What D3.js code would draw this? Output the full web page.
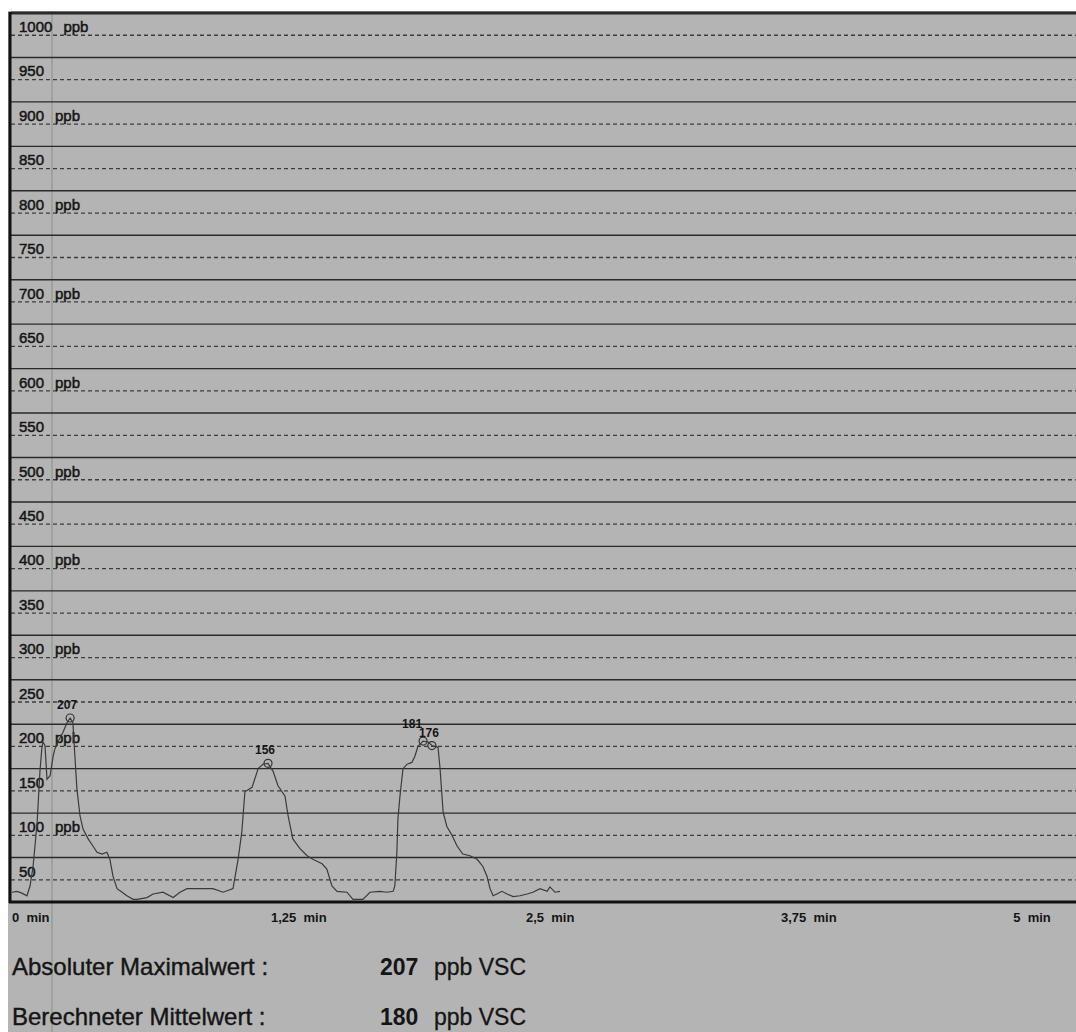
<!DOCTYPE html>
<html>
<head>
<meta charset="utf-8">
<script src="https://cdn.jsdelivr.net/npm/d3@7"></script>
<style>
body { margin: 0; background: #fff; }
text { font-family: "Liberation Sans", Arial, sans-serif; fill: #151515; }
</style>
</head>
<body>
<svg id="chart" width="1076" height="1032"></svg>
<script>
// measured trace: time in seconds, concentration in ppb
var times = [0.0, 1.5, 2.9, 4.4, 5.3, 6.2, 7.4, 8.2, 8.8, 9.1, 9.7, 10.3, 11.2, 12.1, 12.6, 13.5, 15.0, 16.2, 17.1, 17.9,
  18.5, 19.1, 20.0, 20.9, 22.4, 23.8, 25.0, 26.5, 27.9, 28.8, 29.7, 30.9, 32.4, 33.8, 35.6, 36.8, 39.7, 41.5, 44.4, 47.4,
  49.4, 51.5, 55.3, 59.1, 62.1, 65.0, 66.5, 67.6, 68.5, 70.6, 72.4, 73.8, 75.3, 76.8, 78.2, 80.3, 81.2, 82.6, 84.7, 86.8,
  88.5, 91.2, 92.6, 94.1, 95.6, 98.5, 100.3, 103.2, 105.3, 108.2, 110.3, 112.1, 112.6, 113.2, 113.5, 114.1, 115.0, 116.2, 117.6, 118.5,
  119.4, 120.9, 122.4, 123.5, 125.3, 125.9, 126.8, 127.9, 129.4, 130.9, 132.6, 134.7, 136.8, 138.5, 139.7, 140.6, 141.5, 142.6, 144.1, 145.6,
  147.4, 149.4, 151.5, 153.2, 155.3, 157.4, 158.2, 159.7, 161.2];
var values = [11, 12, 10, 7, 18, 40, 90, 146, 174, 180, 176, 138, 142, 164, 172, 180, 191, 202, 207, 202,
  164, 127, 97, 82, 71, 63, 56, 54, 56, 48, 29, 15, 11, 7, 3, 3, 5, 9, 11, 5,
  11, 15, 15, 15, 11, 15, 48, 79, 124, 129, 150, 155, 156, 147, 131, 119, 97, 71, 60, 52,
  48, 43, 37, 18, 12, 11, 3, 3, 11, 12, 11, 12, 18, 56, 93, 119, 150, 155, 157, 164,
  175, 181, 180, 176, 174, 150, 101, 85, 75, 63, 54, 52, 48, 40, 29, 15, 7, 9, 12, 9,
  6, 7, 9, 11, 15, 12, 17, 11, 12];

var peakTimes = [17.1, 75.3, 120.9, 123.5];
var peakValues = [207, 156, 181, 176];

var gridMajor = d3.range(50, 1001, 50);
var gridMinor = d3.range(25, 1000, 50);
var xTicks = [0, 75, 150, 225, 300];
var xTickLabels = ["0 min", "1,25 min", "2,5 min", "3,75 min", "5 min"];

var summaryLabels = ["Absoluter Maximalwert :", "Berechneter Mittelwert :"];
var summaryValues = [207, 180];
var summaryUnit = "ppb VSC";

var svg = d3.select("#chart");
var W = 1076, H = 1032;

var x = d3.scaleLinear().domain([0, 300]).range([12, 1032]);
var y = d3.scaleLinear().domain([0, 1000]).range([902, 13]);

// paper
svg.append("rect").attr("x", 8).attr("y", 11).attr("width", W - 8).attr("height", H - 11).attr("fill", "#b4b4b4");

// faint vertical scan line
svg.append("line")
  .attr("x1", 52).attr("x2", 52).attr("y1", 11).attr("y2", H)
  .attr("stroke", "#8e9a8e").attr("stroke-width", 1.5).attr("opacity", 0.8);

// dashed lines at 25, 75, ...
svg.append("g").selectAll("line")
  .data(gridMinor)
  .enter().append("line")
  .attr("x1", 11).attr("x2", W)
  .attr("y1", function(d) { return y(d); })
  .attr("y2", function(d) { return y(d); })
  .attr("stroke", "#3c3c3c")
  .attr("stroke-width", 1.3)
  .attr("stroke-dasharray", "4,3");

// solid lines at 50, 100, ...
svg.append("g").selectAll("line")
  .data(gridMajor)
  .enter().append("line")
  .attr("x1", 11).attr("x2", W)
  .attr("y1", function(d) { return y(d); })
  .attr("y2", function(d) { return y(d); })
  .attr("stroke", "#2a2a2a")
  .attr("stroke-width", function(d) { return d == 1000 ? 3 : 1.4; });

// frame: left border and base line
svg.append("line").attr("x1", 10).attr("x2", 10).attr("y1", 12).attr("y2", 903)
  .attr("stroke", "#111").attr("stroke-width", 3);
svg.append("line").attr("x1", 9).attr("x2", W).attr("y1", y(0)).attr("y2", y(0))
  .attr("stroke", "#111").attr("stroke-width", 3);

// y labels, below their line
var ylab = svg.append("g").selectAll("text")
  .data(gridMajor)
  .enter().append("text")
  .attr("x", 19)
  .attr("y", function(d) { return y(d) + 19; })
  .attr("font-size", 15)
  .attr("stroke", "#151515").attr("stroke-width", 0.5);
ylab.append("tspan").text(function(d) { return d; });
ylab.filter(function(d) { return d % 100 == 0; })
  .append("tspan")
  .attr("dx", 11)
  .text("ppb");

// x labels
svg.append("g").selectAll("text")
  .data(xTicks)
  .enter().append("text")
  .attr("x", function(d, i) { return x(d) + (i > 0 && i < xTicks.length - 1 ? 4 : 0); })
  .attr("y", 922)
  .attr("font-size", 13)
  .attr("font-weight", "bold")
  .attr("text-anchor", function(d, i) { return i == xTicks.length - 1 ? "middle" : "start"; })
  .attr("xml:space", "preserve")
  .text(function(d, i) { return xTickLabels[i].replace(" ", "  "); });

// trace
var trace = times.map(function(t, i) { return {t: t, v: values[i]}; });
var line = d3.line()
  .x(function(d) { return x(d.t); })
  .y(function(d) { return y(d.v); });

svg.append("path")
  .datum(trace)
  .attr("d", line)
  .attr("fill", "none")
  .attr("stroke", "#3a3a3a")
  .attr("stroke-width", 1.2);

// peak markers
var peaks = peakTimes.map(function(t, i) { return {t: t, v: peakValues[i]}; });
svg.append("g").selectAll("circle")
  .data(peaks)
  .enter().append("circle")
  .attr("cx", function(d) { return x(d.t); })
  .attr("cy", function(d) { return y(d.v); })
  .attr("r", 4)
  .attr("fill", "none")
  .attr("stroke", "#333")
  .attr("stroke-width", 1.2);

svg.append("g").selectAll("text")
  .data(peaks)
  .enter().append("text")
  .attr("x", function(d, i) { return x(d.t) - (i == 2 ? 11 : 3); })
  .attr("y", function(d, i) { return y(d.v) - (i == 2 ? 13 : 9); })
  .attr("text-anchor", "middle")
  .attr("font-size", 12)
  .attr("font-weight", "bold")
  .text(function(d) { return d.v; });

// summary lines
var rows = svg.append("g").selectAll("g")
  .data(summaryLabels)
  .enter().append("g")
  .attr("transform", function(d, i) { return "translate(0," + (975 + i * 50) + ")"; });

rows.append("text")
  .attr("x", 12)
  .attr("font-size", 24)
  .attr("stroke", "#151515").attr("stroke-width", 0.4)
  .text(function(d) { return d; });

rows.append("text")
  .attr("x", 380)
  .attr("font-size", 23)
  .attr("font-weight", "bold")
  .text(function(d, i) { return summaryValues[i]; });

rows.append("text")
  .attr("x", 434)
  .attr("font-size", 23)
  .attr("stroke", "#151515").attr("stroke-width", 0.3)
  .text(summaryUnit);
</script>
</body>
</html>
